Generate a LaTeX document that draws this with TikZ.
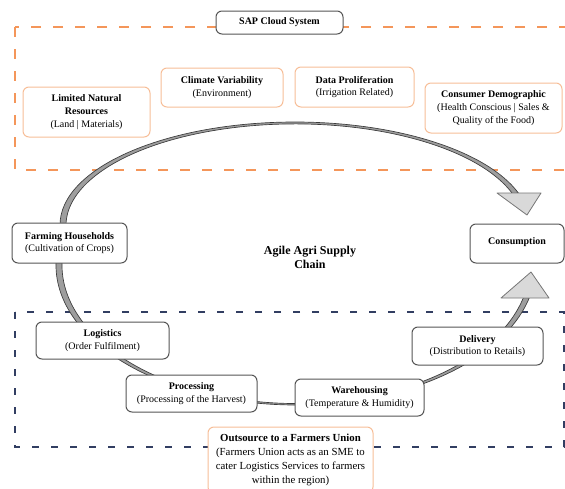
\documentclass[tikz,border=0pt]{standalone}
\usepackage{fontspec}
\setmainfont{Liberation Serif}
\usepackage{tikz}

\begin{document}
\begin{tikzpicture}[x=0.75pt,y=0.75pt,yscale=-1,xscale=1,
  chainbox/.style={draw={rgb, 255:red, 85; green, 85; blue, 85}, fill=white, rounded corners=4.5pt, line width=0.75pt, align=center, inner sep=0.75pt, font=\fontsize{7.5}{9.5}\selectfont},
  issuebox/.style={chainbox, draw={rgb, 255:red, 247; green, 190; blue, 152}},
  ribbon/.style={draw={rgb, 255:red, 60; green, 60; blue, 60}, fill={rgb, 255:red, 158; green, 158; blue, 158}, line width=0.5pt},
  headfill/.style={draw={rgb, 255:red, 118; green, 118; blue, 118}, fill={rgb, 255:red, 217; green, 217; blue, 217}, line width=0.6pt, line join=round},
  cloudline/.style={draw={rgb, 255:red, 244; green, 150; blue, 90}, line width=1.1pt, dash pattern=on 7.5pt off 9pt},
  unionline/.style={draw={rgb, 255:red, 50; green, 62; blue, 98}, line width=1.1pt, dash pattern=on 5.25pt off 9pt}]
\useasboundingbox (0,0) rectangle (565,489);

%Dashed Frames
\draw [cloudline] (15,27) rectangle (567,170) ;
\draw [unionline] (15,312) rectangle (564,447) ;

%Shape: Upper Ribbon
\draw [ribbon] (60,225) arc [start angle=180, end angle=341.9, x radius=235, y radius=103] -- (512.66,193.9) arc [start angle=341.9, end angle=180, x radius=229, y radius=101.5] -- cycle ;
\draw [headfill] (497,193) -- (541,193) -- (527,215) -- cycle ;
%Shape: Lower Ribbon
\draw [ribbon] (57.32,250.37) arc [start angle=186, end angle=13.63, x radius=240, y radius=140] -- (523.41,297.64) arc [start angle=13.63, end angle=186, x radius=234, y radius=138.5] -- cycle ;
\draw [headfill] (501,298) -- (549,298) -- (531,272) -- cycle ;

% Cloud System
\node [chainbox, minimum width=95.25pt, minimum height=17.25pt] (sap) at (279.5,22.5) {\textbf{SAP Cloud System}};
\node [issuebox, minimum width=95.25pt, minimum height=37.5pt] (resources) at (86.5,112) {\textbf{Limited Natural}\\\textbf{Resources}\\(Land | Materials)};
\node [issuebox, minimum width=91.5pt, minimum height=29.25pt] (climate) at (222,87.5) {\textbf{Climate Variability}\\(Environment)};
\node [issuebox, minimum width=89.25pt, minimum height=30pt] (data) at (354.5,87) {\textbf{Data Proliferation}\\(Irrigation Related)};
\node [issuebox, minimum width=102.75pt, minimum height=37.5pt] (consumer) at (493.5,108) {\textbf{Consumer Demographic}\\(Health Conscious | Sales \&\\Quality of the Food)};

% Supply Chain
\node [chainbox, minimum width=86.25pt, minimum height=30pt] (farming) at (69.5,243) {\textbf{Farming Households}\\(Cultivation of Crops)};
\node [chainbox, minimum width=70.5pt, minimum height=29.25pt] (consumption) at (517,243.5) {\raisebox{4pt}{\textbf{Consumption}}};
\node [align=center, inner sep=0.75pt, font=\fontsize{9}{10.5}\selectfont\bfseries] (title) at (310,257) {Agile Agri Supply\\Chain};
\node [chainbox, minimum width=99.75pt, minimum height=27.75pt] (logistics) at (102.5,340.5) {\textbf{Logistics}\\(Order Fulfilment)};
\node [chainbox, minimum width=98.25pt, minimum height=27.75pt] (processing) at (191.5,393.5) {\textbf{Processing}\\(Processing of the Harvest)};
\node [chainbox, minimum width=96.75pt, minimum height=27.75pt] (warehousing) at (359.5,397.5) {\textbf{Warehousing}\\(Temperature \& Humidity)};
\node [chainbox, minimum width=98.25pt, minimum height=28.5pt] (delivery) at (477.5,346) {\textbf{Delivery}\\(Distribution to Retails)};

% Outsourcing
\node [issuebox, minimum width=123.75pt, minimum height=49.5pt, font=\fontsize{8.1}{10.5}\selectfont] (union) at (290.5,460) {\textbf{Outsource to a Farmers Union}\\(Farmers Union acts as an SME to\\cater Logistics Services to farmers\\within the region)};

\end{tikzpicture}
\end{document}
